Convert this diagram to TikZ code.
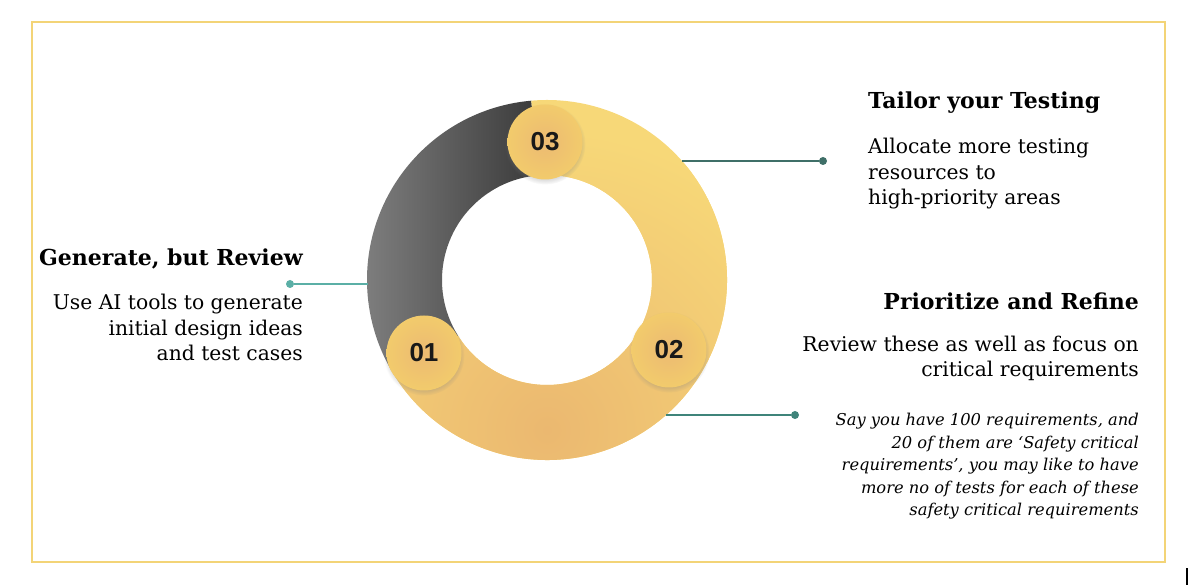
\documentclass[tikz,border=0pt]{standalone}
\usepackage{fontspec}
\setmainfont{DejaVu Serif}
\newfontfamily\numfont{Liberation Sans}
\usepackage{tikz}
\usepackage{xcolor}
\usetikzlibrary{shadows}

\definecolor{frameyellow}{HTML}{F3D477}
\definecolor{ringyellow}{HTML}{F7D878}
\definecolor{ringorange}{HTML}{EBB870}
\definecolor{ringgrayA}{HTML}{808080}
\definecolor{ringgrayB}{HTML}{3A3A3A}
\definecolor{badgeyellow}{HTML}{F2CB6C}
\definecolor{badgeorange}{HTML}{ECBA72}
\definecolor{tealA}{HTML}{5BAFA6}
\definecolor{tealB}{HTML}{3F6F68}
\definecolor{tealC}{HTML}{3F847A}

\begin{document}
\begin{tikzpicture}[x=1pt,y=1pt,
  badge/.style={circle,minimum size=75pt,inner sep=0pt,
    shade,inner color=badgeorange,outer color=badgeyellow,
    circular drop shadow={shadow xshift=0pt,shadow yshift=-2pt,shadow scale=1.08,opacity=0.3},
    font=\numfont\bfseries\fontsize{26}{26}\selectfont,text=black!90},
  dot/.style={circle,fill,inner sep=0pt,minimum size=8pt},
  head/.style={font=\bfseries\fontsize{22}{26}\selectfont,inner sep=0pt},
  body/.style={font=\fontsize{20.3}{25.8}\selectfont,inner sep=0pt},
  note/.style={font=\itshape\fontsize{16.3}{22.6}\selectfont,inner sep=0pt}]
\useasboundingbox (0,0) rectangle (1192,588);
\draw[frameyellow,line width=1.5pt] (32,26) rectangle (1165,566);
\fill[black] (1185.5,3) rectangle (1187.5,20);

\begin{scope}[shift={(547,308)}]
\shade[left color=ringgrayA,right color=ringgrayB]
  (95:180) arc[start angle=95,end angle=212,radius=180]
  -- (212:105) arc[start angle=212,end angle=95,radius=105] -- cycle;
\begin{scope}
\path[clip] (212:180) arc[start angle=212,end angle=455,radius=180]
  -- (455:105) arc[start angle=455,end angle=212,radius=105] -- cycle;
\fill[ringyellow] (-200,-200) rectangle (200,200);
\shade[inner color=ringorange,outer color=ringyellow] (0,-150) circle (300);
\end{scope}
\coordinate (ringL) at (-179,-4);
\coordinate (ringT) at (135,119);
\coordinate (ringB) at (119,-135);
\end{scope}

\node[badge] (b1) at (424,235) {01};
\node[badge] (b2) at (669,238) {02};
\node[badge] (b3) at (545,446) {03};

\node[dot,tealA] (dotL) at (290,304) {};
\node[dot,tealB] (dotT) at (823,427) {};
\node[dot,tealC] (dotB) at (795,173) {};
\draw[tealA,line width=1.2pt] (dotL) -- (ringL);
\draw[tealB,line width=1.2pt] (ringT) -- (dotT);
\draw[tealC,line width=1.2pt] (ringB) -- (dotB);

\node[head,anchor=base east] (headL) at (303,322) {Generate, but Review};
\node[body,align=right,anchor=base east] (bodyL) at (303,227)
  {Use AI tools to generate\\initial design ideas\\and test cases};

\node[head,anchor=base west] (headT) at (868,479) {Tailor your Testing};
\node[body,align=left,anchor=base west] (bodyT) at (868,383)
  {Allocate more testing\\resources to\\high-priority areas};

\node[head,anchor=base east] (headR) at (1139,278) {Prioritize and Refine};
\node[body,align=right,anchor=base east] (bodyR) at (1139,211)
  {Review these as well as focus on\\critical requirements};
\node[note,align=right,anchor=base east] (noteR) at (1139,72)
  {Say you have 100 requirements, and\\20 of them are ‘Safety critical\\requirements’, you may like to have\\more no of tests for each of these\\safety critical requirements};
\end{tikzpicture}
\end{document}
